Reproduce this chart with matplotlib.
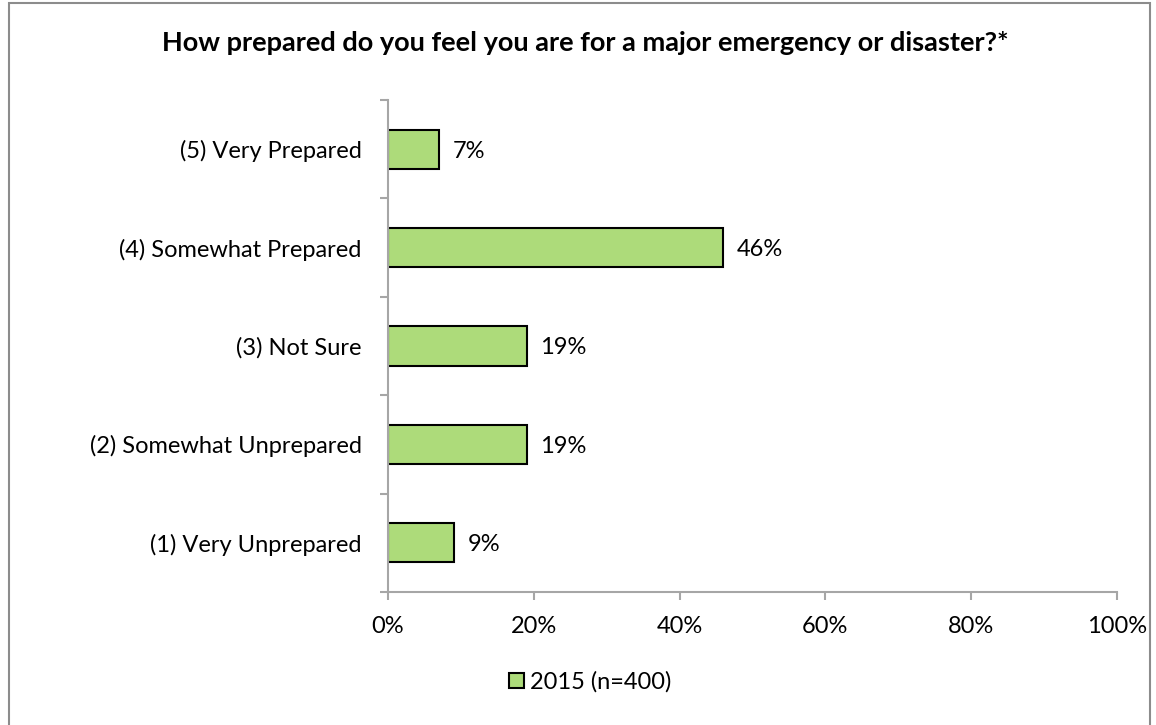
import matplotlib.pyplot as plt
from matplotlib.patches import Rectangle

categories = ["(1) Very Unprepared", "(2) Somewhat Unprepared", "(3) Not Sure",
              "(4) Somewhat Prepared", "(5) Very Prepared"]
values = [9, 19, 19, 46, 7]
series_name = "2015 (n=400)"
xticks = [0, 20, 40, 60, 80, 100]

bar_color = "#ADDB7A"
axis_color = "#A6A6A6"

plt.rcParams['font.family'] = ['Lato', 'DejaVu Sans']

fig = plt.figure(figsize=(11.56, 7.25), dpi=100)
fig.patches.append(Rectangle((9 / 1156, -0.01), 1141 / 1156, 1.0 - 3 / 725 + 0.01,
                             transform=fig.transFigure, fill=False,
                             edgecolor="#8C8C8C", linewidth=1.5))

ax = fig.add_axes([388 / 1156, 133 / 725, 729 / 1156, 492 / 725])
pos = range(len(categories))
ax.barh(pos, values, height=0.4, color=bar_color, edgecolor="black", linewidth=1.5,
        label=series_name)
for p, v in zip(pos, values):
    ax.annotate(f"{v}%", (v, p), xytext=(10, 0), textcoords="offset points",
                va="center_baseline", ha="left", fontsize=17)

ax.set_xlim(0, 100)
ax.set_ylim(-0.5, len(categories) - 0.5)
ax.set_xticks(xticks)
ax.set_xticklabels([f"{t}%" for t in xticks], fontsize=17)
ax.set_yticks(pos)
ax.set_yticklabels(categories, fontsize=17, va="center_baseline")
ax.set_yticks([p - 0.5 for p in range(len(categories) + 1)], minor=True)
ax.tick_params(axis="y", which="major", length=0, pad=19)
ax.tick_params(axis="y", which="minor", length=6, color=axis_color, width=1.5,
               direction="out")
ax.tick_params(axis="x", length=6, color=axis_color, width=1.5, pad=11)
for s in ["top", "right"]:
    ax.spines[s].set_visible(False)
for s in ["left", "bottom"]:
    ax.spines[s].set_color(axis_color)
    ax.spines[s].set_linewidth(1.5)

fig.text(585 / 1156, 1 - 43 / 725, "How prepared do you feel you are for a major emergency or disaster?*",
         ha="center", va="center", fontsize=19.5, fontweight="bold")

fig.legend(loc="center", bbox_to_anchor=(590 / 1156, 1 - 682 / 725), frameon=False,
           fontsize=17, handlelength=0.65, handleheight=0.65, handletextpad=0.25)

fig.savefig("out.png", dpi=100)
